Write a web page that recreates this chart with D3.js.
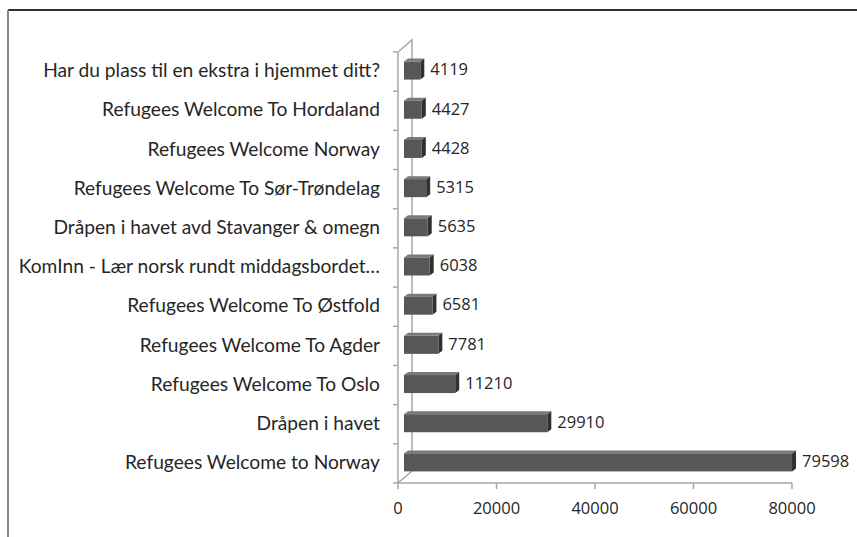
<!DOCTYPE html>
<html>
<head>
<meta charset="utf-8">
<script src="https://cdn.jsdelivr.net/npm/d3@7"></script>
<style>
body { margin: 0; background: #fff; }
text { font-family: Lato, "Open Sans", sans-serif; fill: #262626; }
text.num { font-family: "Open Sans", Lato, sans-serif; }
</style>
</head>
<body>
<script>
const pages = [
    'Har du plass til en ekstra i hjemmet ditt?',
    'Refugees Welcome To Hordaland',
    'Refugees Welcome Norway',
    'Refugees Welcome To Sør-Trøndelag',
    'Dråpen i havet avd Stavanger & omegn',
    'KomInn - Lær norsk rundt middagsbordet…',
    'Refugees Welcome To Østfold',
    'Refugees Welcome To Agder',
    'Refugees Welcome To Oslo',
    'Dråpen i havet',
    'Refugees Welcome to Norway'
]
const members = [4119, 4427, 4428, 5315, 5635, 6038, 6581, 7781, 11210, 29910, 79598]
const xTicks = [0, 20000, 40000, 60000, 80000]

const W = 857, H = 537
const depthX = 14, depthY = 12   // wall depth
const barDx = 4, barDy = 3      // bar depth

let svg = d3.select('body').append('svg')
    .attr('width', W)
    .attr('height', H)

// chart frame (only top and left visible)
svg.append('line')
    .attr('x1', 8).attr('y1', 10).attr('x2', W).attr('y2', 10)
    .attr('stroke', '#333').attr('stroke-width', 2)
svg.append('line')
    .attr('x1', 8).attr('y1', 10).attr('x2', 8).attr('y2', H)
    .attr('stroke', '#888').attr('stroke-width', 2)

let x = d3.scaleLinear().domain([0, 80000]).range([398, 792])
let y = d3.scaleBand().domain(pages).range([52, 483])

const x0 = x(0), yTop = 52, yBot = 483
const axisColor = '#a6a6a6'

// wall + floor outline
let wall = svg.append('g')
    .attr('stroke', axisColor)
    .attr('stroke-width', 1.5)
    .attr('fill', 'none')
wall.append('path')
    .attr('d', `M${x0},${yBot} L${x0},${yTop} L${x0 + depthX},${yTop - depthY} L${x0 + depthX},${yBot - depthY} L${x0},${yBot}`)
wall.append('line')
    .attr('x1', x0).attr('y1', yBot).attr('x2', x(80000)).attr('y2', yBot)

// category ticks on the wall
wall.selectAll('.ytick')
    .data(pages.concat([null])).enter()
    .append('line')
    .attr('x1', x0 - 5).attr('x2', x0)
    .attr('y1', (d, i) => yTop + i * y.step())
    .attr('y2', (d, i) => yTop + i * y.step())

// value ticks on the floor
wall.selectAll('.xtick')
    .data(xTicks).enter()
    .append('line')
    .attr('x1', d => x(d)).attr('x2', d => x(d))
    .attr('y1', yBot).attr('y2', yBot + 6)

svg.append('g')
    .selectAll('text')
    .data(xTicks).enter()
    .append('text')
    .attr('class', 'num')
    .attr('x', d => x(d))
    .attr('y', 508)
    .attr('dy', '0.35em')
    .attr('text-anchor', 'middle')
    .style('font-size', '16.5px')
    .text(d => d)

// 3D bars
const barH = 18
let bars = svg.append('g')
    .selectAll('g')
    .data(pages.map((p, i) => ({ name: p, value: members[i] }))).enter()
    .append('g')
    .attr('transform', d => 'translate(0,' + (y(d.name) + y.bandwidth() / 2 - barH / 2 - 1) + ')')

const bx = x0 + 6
bars.append('path')   // top face
    .attr('fill', '#7a7a7a')
    .attr('d', d => {
        let r = x(d.value) + 2
        return `M${bx},0 L${bx + barDx},${-barDy} L${r + barDx},${-barDy} L${r},0 Z`
    })
bars.append('path')   // side face
    .attr('fill', '#303030')
    .attr('d', d => {
        let r = x(d.value) + 2
        return `M${r},0 L${r + barDx},${-barDy} L${r + barDx},${barH - barDy} L${r},${barH} Z`
    })
bars.append('rect')   // front face
    .attr('fill', '#575757')
    .attr('x', bx)
    .attr('y', 0)
    .attr('width', d => x(d.value) + 2 - bx)
    .attr('height', barH)

bars.append('text')
    .attr('class', 'num')
    .attr('x', d => x(d.value) + 12)
    .attr('y', barH / 2 - 1)
    .attr('dy', '0.35em')
    .style('font-size', '16.5px')
    .text(d => d.value)

// category labels
svg.append('g')
    .selectAll('text')
    .data(pages).enter()
    .append('text')
    .attr('x', 380)
    .attr('y', d => y(d) + y.bandwidth() / 2 - 1)
    .attr('dy', '0.35em')
    .attr('text-anchor', 'end')
    .style('font-size', '19.2px')
    .text(d => d)
</script>
</body>
</html>
